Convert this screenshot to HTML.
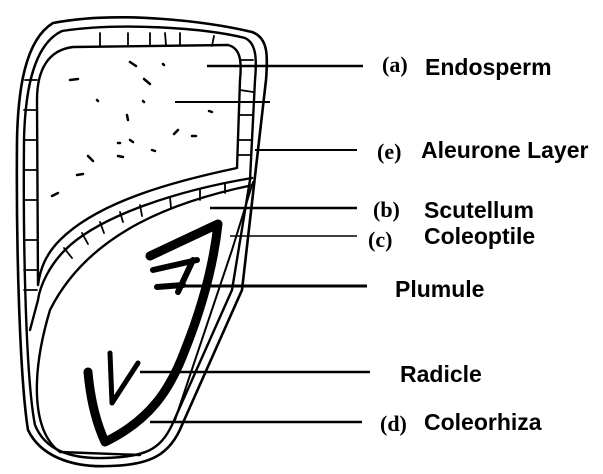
<!DOCTYPE html>
<html><head><meta charset="utf-8"><style>
html,body{margin:0;padding:0;background:#fff;}
svg{display:block;}
.s{font-family:"Liberation Sans",sans-serif;font-weight:bold;font-size:23px;fill:#000;}
.r{font-family:"Liberation Serif",serif;font-weight:bold;font-size:22px;fill:#000;}
</style></head><body>
<svg width="603" height="474" viewBox="0 0 603 474" xmlns="http://www.w3.org/2000/svg">
<g fill="none" stroke="#000" stroke-linecap="round" stroke-linejoin="round">
<path d="M53,23 C120,10 210,22 252,32 C268,38 268,55 266,80 L242,290 L182,425 C170,455 150,465 110,466 C70,468 40,455 28,430 C20,380 16,250 17,140 C18,90 25,40 53,23 Z" stroke-width="2.6"/>
<path d="M62,31 C120,22 205,28 245,38 C256,43 257,58 255,80 L250,180 L232,290 L172,425 C160,450 145,457 105,458 C70,459 45,450 35,425 C26,380 23,250 24,140 C25,95 32,45 62,31 Z" stroke-width="2.4"/>
<path d="M73,47 L228,45 C240,48 242,60 240,80 L237,168 C180,180 100,200 60,240 C45,255 40,270 38,285 L37,100 C37,70 48,50 73,47 Z" stroke-width="2.4"/>
<path d="M252,178 C180,190 100,215 65,250 C50,265 40,285 38,300 L30,330" stroke-width="2.4"/>
<path d="M253,185 C180,200 90,230 50,310 C32,370 30,430 60,452 L140,455" stroke-width="2.4"/>
<path d="M253,182 L232,250 L175,420" stroke-width="2"/>
<g stroke-width="1.8">
<path d="M100,33 L100,46 M128,33 L128,46 M150,33 L150,45 M165,33 L166,45 M180,33 L180,45 M214,36 L212,46 M240,60 L253,60 M240,90 L253,92 M240,115 L252,115 M238,140 L251,140 M238,155 L251,155 M25,80 L37,80 M24,110 L37,110 M24,140 L37,140 M24,170 L37,170 M24,200 L37,200 M24,240 L37,240 M24,270 L37,270 M24,290 L37,290 M64,248 L72,258 M82,233 L88,244 M100,222 L104,233 M120,212 L123,222 M140,205 L142,216 M170,197 L171,208 M200,189 L200,200 M225,183 L225,193"/>
</g>
<g stroke-width="2.5">
<path d="M130,62 L136,66 M163,64 L164,65 M70,80 L78,79 M144,79 L150,84 M97,100 L98,101 M143,101 L144,102 M127,115 L128,120 M209,111 L212,112 M174,134 L178,130 M192,136 L196,136 M118,143 L120,143 M130,140 L133,142 M152,150 L155,151 M88,156 L93,161 M118,156 L123,157 M77,175 L83,174 M52,196 L58,193"/>
</g>
<path d="M150,256 L218,224 C214,260 205,300 185,350 C170,390 150,420 105,442 C95,420 90,395 88,372" stroke-width="9"/>
<path d="M153,270 L197,260 M157,287 L183,285 M193,260 L178,292" stroke-width="6"/>
<path d="M110,353 L112,403 L138,363" stroke-width="5"/>
</g>
<g stroke="#000">
<line x1="207" y1="66" x2="363" y2="66" stroke-width="2.5"/>
<line x1="175" y1="102" x2="270" y2="102" stroke-width="2"/>
<line x1="255" y1="150" x2="357" y2="150" stroke-width="2"/>
<line x1="210" y1="208" x2="357" y2="208" stroke-width="2.5"/>
<line x1="230" y1="236" x2="357" y2="236" stroke-width="1.6"/>
<line x1="160" y1="286" x2="367" y2="286" stroke-width="3"/>
<line x1="140" y1="372" x2="370" y2="372" stroke-width="2.5"/>
<line x1="150" y1="422" x2="362" y2="422" stroke-width="2.5"/>
</g>
<text class="r" x="382" y="72">(a)</text><text class="s" x="425" y="75">Endosperm</text>
<text class="r" x="377" y="159">(e)</text><text class="s" x="421" y="158">Aleurone Layer</text>
<text class="r" x="373" y="217">(b)</text><text class="s" x="424" y="218">Scutellum</text>
<text class="r" x="368" y="247">(c)</text><text class="s" x="424" y="244">Coleoptile</text>
<text class="s" x="395" y="297">Plumule</text>
<text class="s" x="400" y="382">Radicle</text>
<text class="r" x="380" y="431">(d)</text><text class="s" x="424" y="430">Coleorhiza</text>
</svg>
</body></html>
